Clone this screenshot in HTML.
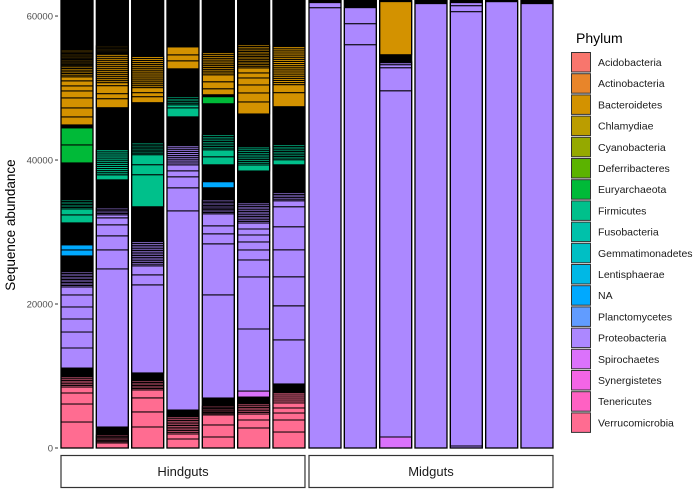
<!DOCTYPE html>
<html><head><meta charset="utf-8"><style>
body{margin:0;background:#fff;}
svg{display:block;font-family:"Liberation Sans",Arial,sans-serif;}
</style></head><body>
<svg id="chart" width="698" height="490" viewBox="0 0 698 490"></svg>
<script>
const phyla = ["Acidobacteria","Actinobacteria","Bacteroidetes","Chlamydiae","Cyanobacteria","Deferribacteres","Euryarchaeota","Firmicutes","Fusobacteria","Gemmatimonadetes","Lentisphaerae","NA","Planctomycetes","Proteobacteria","Spirochaetes","Synergistetes","Tenericutes","Verrucomicrobia"];
const phylaColors = ["#F8766D","#E8852A","#D39200","#BB9D00","#95A900","#5BB300","#00BA38","#00C08B","#00C1AA","#00BFC4","#00B8E5","#00A9FF","#619CFF","#AC88FF","#DB72FB","#F365E6","#FF61C3","#FF6C91"];
const panels = ["Hindguts","Midguts"];
const yTicks = [0,20000,40000,60000];
// segments bottom to top: [phylumIndex (-1 = rare OTUs), abundance, OTU count]
const H1 = [[17,3610,1],[17,2500,1],[17,1530,1],[17,830,1],[17,1390,6],[-1,1250,1],[13,2780,1],[13,2220,1],[13,1810,1],[13,1670,1],[13,1670,1],[13,1110,1],[13,2090,10],[-1,2220,1],[11,830,1],[11,700,1],[-1,3060,1],[7,1110,1],[7,830,1],[7,1250,6],[-1,5140,1],[6,2500,1],[6,2360,1],[-1,420,1],[2,1110,1],[2,1250,1],[2,1390,1],[2,970,1],[2,700,1],[2,700,1],[2,560,1],[2,1390,6],[2,2360,14],[-1,6950,1]];
const H2 = [[17,700,1],[17,1110,6],[-1,1110,1],[13,21960,1],[13,2640,1],[13,1950,1],[13,1530,1],[13,970,1],[13,420,1],[13,970,5],[-1,3890,1],[7,700,1],[7,3480,12],[-1,5840,1],[2,1250,1],[2,700,1],[2,1110,1],[2,420,1],[2,3890,14],[2,1250,8],[-1,6390,1]];
const H3 = [[17,2920,1],[17,2090,1],[17,1950,1],[17,1110,1],[17,1250,6],[-1,1110,1],[13,12230,1],[13,1390,1],[13,1250,1],[13,3340,14],[-1,4870,1],[7,4450,1],[7,1390,1],[7,1390,1],[7,1670,8],[-1,5560,1],[2,830,1],[2,560,1],[2,700,1],[2,4310,16],[-1,7920,1]];
const H4 = [[17,1250,1],[17,700,1],[17,2360,10],[-1,970,1],[13,27660,1],[13,3200,1],[13,1530,1],[13,830,1],[13,830,1],[13,2640,10],[-1,4030,1],[7,1250,1],[7,420,1],[7,1110,5],[-1,3890,1],[2,1110,1],[2,830,1],[2,1110,1],[2,560,4],[-1,5980,1]];
const H5 = [[17,1530,1],[17,1670,1],[17,1390,1],[17,1250,7],[-1,1110,1],[13,14320,1],[13,7090,1],[13,1390,1],[13,1110,1],[13,1670,1],[13,1950,10],[-1,1670,1],[11,830,1],[-1,2360,1],[7,1110,1],[7,970,1],[7,2090,9],[-1,4310,1],[6,970,1],[-1,280,1],[2,830,1],[2,970,1],[2,970,1],[2,3060,12],[-1,7370,1]];
const H6 = [[17,2780,1],[17,1110,1],[17,830,1],[17,1390,6],[-1,970,1],[14,830,1],[13,8620,1],[13,7230,1],[13,2360,1],[13,1390,1],[13,1110,1],[13,970,1],[13,830,1],[13,830,1],[13,2780,12],[-1,4450,1],[7,830,1],[7,2500,10],[-1,4590,1],[2,1670,1],[2,1250,1],[2,1110,1],[2,970,1],[2,700,1],[2,700,1],[2,3200,14],[-1,6260,1]];
const H7 = [[17,2220,1],[17,1670,1],[17,970,1],[17,700,1],[17,700,1],[17,1390,5],[-1,1250,1],[13,6120,1],[13,4730,1],[13,4030,1],[13,3750,1],[13,3200,1],[13,2780,1],[13,830,1],[13,1110,5],[-1,3890,1],[7,700,1],[7,2090,9],[-1,5280,1],[2,1950,1],[2,1110,1],[2,5280,18],[-1,6530,1]];
const M1 = [[13,61160,1],[13,700,1],[-1,420,1]];
const M2 = [[13,56020,1],[13,2920,1],[13,2220,1],[-1,1110,1]];
const M3 = [[14,1530,1],[13,48090,1],[13,3200,1],[13,420,1],[13,280,1],[13,140,1],[-1,970,1],[2,7370,1],[-1,280,1]];
const M4 = [[13,61720,1],[-1,560,1]];
const M5 = [[13,280,1],[13,60330,1],[13,830,1],[13,420,1],[-1,420,1]];
const M6 = [[13,61990,1],[-1,280,1]];
const M7 = [[13,61720,1],[-1,560,1]];
const hindSamples = [H1,H2,H3,H4,H5,H6,H7];
const midSamples = [M1,M2,M3,M4,M5,M6,M7];

const NS="http://www.w3.org/2000/svg";
const svg=document.getElementById('chart');
function mk(t,a,p){const e=document.createElementNS(NS,t);for(const k in a)e.setAttribute(k,a[k]);(p||svg).appendChild(e);return e;}
const y0=448, pxPer=138.9;
function yScale(v){return y0 - v/pxPer;}
const panelStart=[59,307], step=35.33, barW=32;
function xScale(panel,i){return panelStart[panel]+2+i*step;}

// y axis
const yAxis=mk('g',{});


yTicks.forEach(t=>{
  const y=yScale(t);
  const ln=mk('line',{x1:55,x2:58,y1:y,y2:y,stroke:'#333','stroke-width':1},yAxis);
  
  
  const tx=mk('text',{x:53,y:y+3.5,'text-anchor':'end','font-size':9.5,fill:'#4d4d4d'},yAxis);
  tx.textContent=t;
  
  
});
const yt=mk('text',{x:0,y:0,transform:'translate(15,225) rotate(-90)','text-anchor':'middle','font-size':13.5,fill:'#000'});
yt.textContent='Sequence abundance';



function drawBar(panel,i,segs){
  const g=mk('g',{});
  
  
  const x=xScale(panel,i);
  let cum=0;
  segs.forEach(s=>{
    const [p,v,n]=s;
    const fill=p<0?'#000':phylaColors[p];
    const sub=v/n;
    for(let k=0;k<n;k++){
      const yb=yScale(cum+sub*(k+1)), ya=yScale(cum+sub*k);
      const r=mk('rect',{x:x,y:yb,width:barW,height:Math.max(ya-yb,0.1),fill:fill,stroke:'#000','stroke-width':p<0?0.5:1},g);
      
      
    }
    cum+=v;
  });
  const o=mk('rect',{x:x,y:yScale(cum),width:barW,height:yScale(0)-yScale(cum),fill:'none',stroke:'#000','stroke-width':1.3},g);
  
  
}
hindSamples.forEach((s,i)=>drawBar(0,i,s));
midSamples.forEach((s,i)=>drawBar(1,i,s));

// strips
panels.forEach((p,k)=>{
  const x=panelStart[k]+2, w=6*step+barW;
  const r=mk('rect',{x:x,y:455.5,width:w,height:32,fill:'#fff',stroke:'#333','stroke-width':1.2});
  
  
  const t=mk('text',{x:x+w/2,y:476,'text-anchor':'middle','font-size':13,fill:'#1a1a1a'});
  t.textContent=p;
  
  
});

// legend
const lg=mk('g',{});


const lt=mk('text',{x:576,y:43,'font-size':14,fill:'#000'},lg);
lt.textContent='Phylum';


phyla.forEach((p,i)=>{
  const y=52+i*21.2;
  const e=mk('g',{},lg);
  
  
  const r=mk('rect',{x:571.5,y:y+0.5,width:19,height:19.5,fill:phylaColors[i],stroke:'#333','stroke-width':1},e);
  
  
  const t=mk('text',{x:598,y:y+14,'font-size':10.5,fill:'#1a1a1a'},e);
  t.textContent=p;
  
  
});
</script>
</body></html>
